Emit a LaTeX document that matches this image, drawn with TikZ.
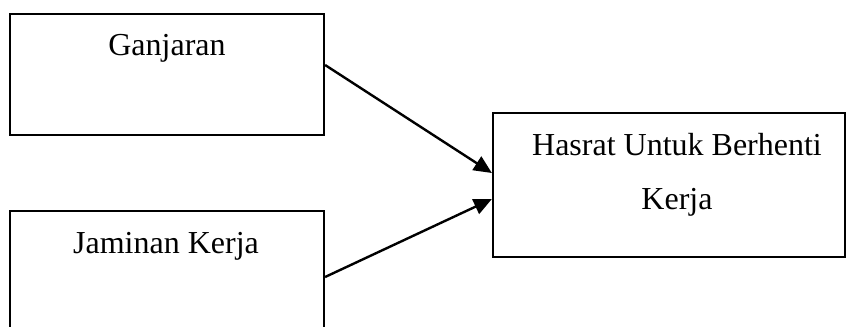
\documentclass[tikz,border=0pt]{standalone}
\usepackage{fontspec}
\setmainfont{Liberation Serif}
\usetikzlibrary{arrows.meta}

\begin{document}
\begin{tikzpicture}[x=0.5pt,y=-0.5pt]
    \tikzset{
    box/.style={rectangle,draw=black,line width=1.1pt,inner sep=0pt},
    txt/.style={anchor=base,font=\fontsize{16}{27}\selectfont,align=center,inner sep=0pt},
    arr/.style={-{Triangle[length=9pt,width=8pt]},line width=1.2pt},
    }
    \useasboundingbox (0,0) rectangle (847,327);

    \node[box,minimum width=157pt,minimum height=60.5pt] (ganj) at (167,74.5) {};
    \node[box,minimum width=157pt,minimum height=60.5pt] (jam) at (167,271.5) {};
    \node[box,minimum width=176pt,minimum height=72pt] (hasrat) at (669,185) {};

    \node[txt] (tganj) at (167,55) {Ganjaran};
    \node[txt] (tjam) at (166,253) {Jaminan Kerja};
    \node[txt] (thasrat) at (677,209) {Hasrat Untuk Berhenti\\Kerja};

    \draw[arr] ([yshift=4.75pt]ganj.east) -- ([yshift=6pt]hasrat.west);
    \draw[arr] ([yshift=-2.75pt]jam.east) -- ([yshift=-7pt]hasrat.west);
\end{tikzpicture}
\end{document}
